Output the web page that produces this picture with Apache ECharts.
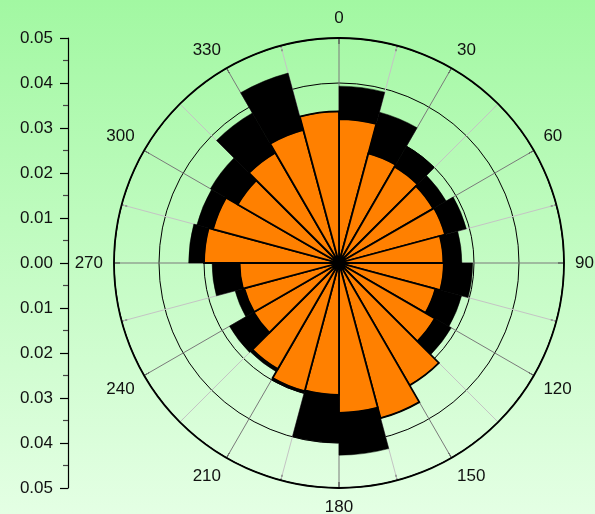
<!DOCTYPE html>
<html>
<head>
<meta charset="utf-8">
<script src="https://cdn.jsdelivr.net/npm/echarts@6/dist/echarts.min.js"></script>
<style>
html,body{margin:0;padding:0;}
#chart{width:595px;height:514px;}
</style>
</head>
<body>
<div id="chart"></div>
<script>
// 24 direction sectors of 15 degrees, clockwise from north
const sectors = ['0-15','15-30','30-45','45-60','60-75','75-90','90-105','105-120','120-135','135-150','150-165','165-180',
  '180-195','195-210','210-225','225-240','240-255','255-270','270-285','285-300','300-315','315-330','330-345','345-360'];
// inner (orange) frequencies
const orangeValues = [0.0320,0.0252,0.0247,0.0242,0.0244,0.0232,0.0233,0.0222,0.0246,0.0314,0.0357,0.0333,
  0.0293,0.0295,0.0272,0.0219,0.0218,0.0221,0.0300,0.0290,0.0260,0.0283,0.0306,0.0337];
// outer (black) frequencies, stacked on top of orange
const blackValues = [0.0073,0.0095,0.0053,0.0033,0.0049,0.0041,0.0064,0.0060,0.0042,0.0000,0.0000,0.0094,
  0.0107,0.0005,0.0007,0.0062,0.0021,0.0061,0.0034,0.0037,0.0070,0.0102,0.0131,0.0000];
// angle tick labels and radial scale
const angleLabels = [0,30,60,90,120,150,180,210,240,270,300,330];
const radialMax = 0.05;
const radialStep = 0.01;

const chart = echarts.init(document.getElementById('chart'));
const font = 'Liberation Sans, Arial, sans-serif';
const center = [339, 263];
const R = 225;

chart.setOption({
  animation: false,
  backgroundColor: {
    type: 'linear', x: 0, y: 0, x2: 0, y2: 1,
    colorStops: [{offset: 0, color: '#a2f8a2'}, {offset: 1, color: '#e4ffe4'}]
  },
  grid: {left: 68, top: 38, width: 1, height: 450},
  xAxis: {type: 'value', show: false},
  yAxis: {
    type: 'value', min: -radialMax, max: radialMax, interval: radialStep,
    axisLine: {show: true, lineStyle: {color: '#000', width: 1.2}},
    axisTick: {show: true, length: 8, lineStyle: {color: '#000', width: 1.2}},
    minorTick: {show: true, splitNumber: 2, length: 5, lineStyle: {color: '#444', width: 1.2}},
    splitLine: {show: false},
    axisLabel: {
      margin: 15, fontSize: 17, fontFamily: font, color: '#111',
      formatter: v => Math.abs(v).toFixed(2)
    }
  },
  polar: [
    {center: center, radius: R},
    {center: center, radius: R}
  ],
  angleAxis: [
    {
      polarIndex: 0, type: 'category', data: sectors, startAngle: 90, clockwise: true,
      boundaryGap: true, show: false
    },
    {
      polarIndex: 1, type: 'value', min: 0, max: 360, interval: 15, startAngle: 90, clockwise: true,
      axisLine: {show: true, lineStyle: {color: '#000', width: 1.8}},
      axisTick: {show: true, inside: true, length: 6, lineStyle: {color: '#000', width: 1}},
      splitLine: {show: true, lineStyle: {color: ['#7a7a7a', '#c4c4c4'], width: 1}},
      axisLabel: {
        margin: 11, fontSize: 17, fontFamily: font, color: '#111',
        formatter: v => (angleLabels.indexOf(v) >= 0 ? String(v) : '')
      }
    }
  ],
  radiusAxis: [
    {polarIndex: 0, type: 'value', min: 0, max: radialMax, show: false},
    {
      polarIndex: 1, type: 'value', min: 0, max: radialMax, interval: radialStep,
      axisLine: {show: false}, axisTick: {show: false}, axisLabel: {show: false},
      splitLine: {show: true, lineStyle: {color: '#000', width: 1}}
    }
  ],
  series: [
    {
      type: 'bar', coordinateSystem: 'polar', polarIndex: 0, stack: 'rose',
      data: orangeValues, barCategoryGap: '0%',
      itemStyle: {color: '#ff8000', borderColor: '#000', borderWidth: 1.8}
    },
    {
      type: 'bar', coordinateSystem: 'polar', polarIndex: 0, stack: 'rose',
      data: blackValues, barCategoryGap: '0%',
      itemStyle: {color: '#000', borderColor: '#000', borderWidth: 0.5}
    }
  ]
});
</script>
</body>
</html>
